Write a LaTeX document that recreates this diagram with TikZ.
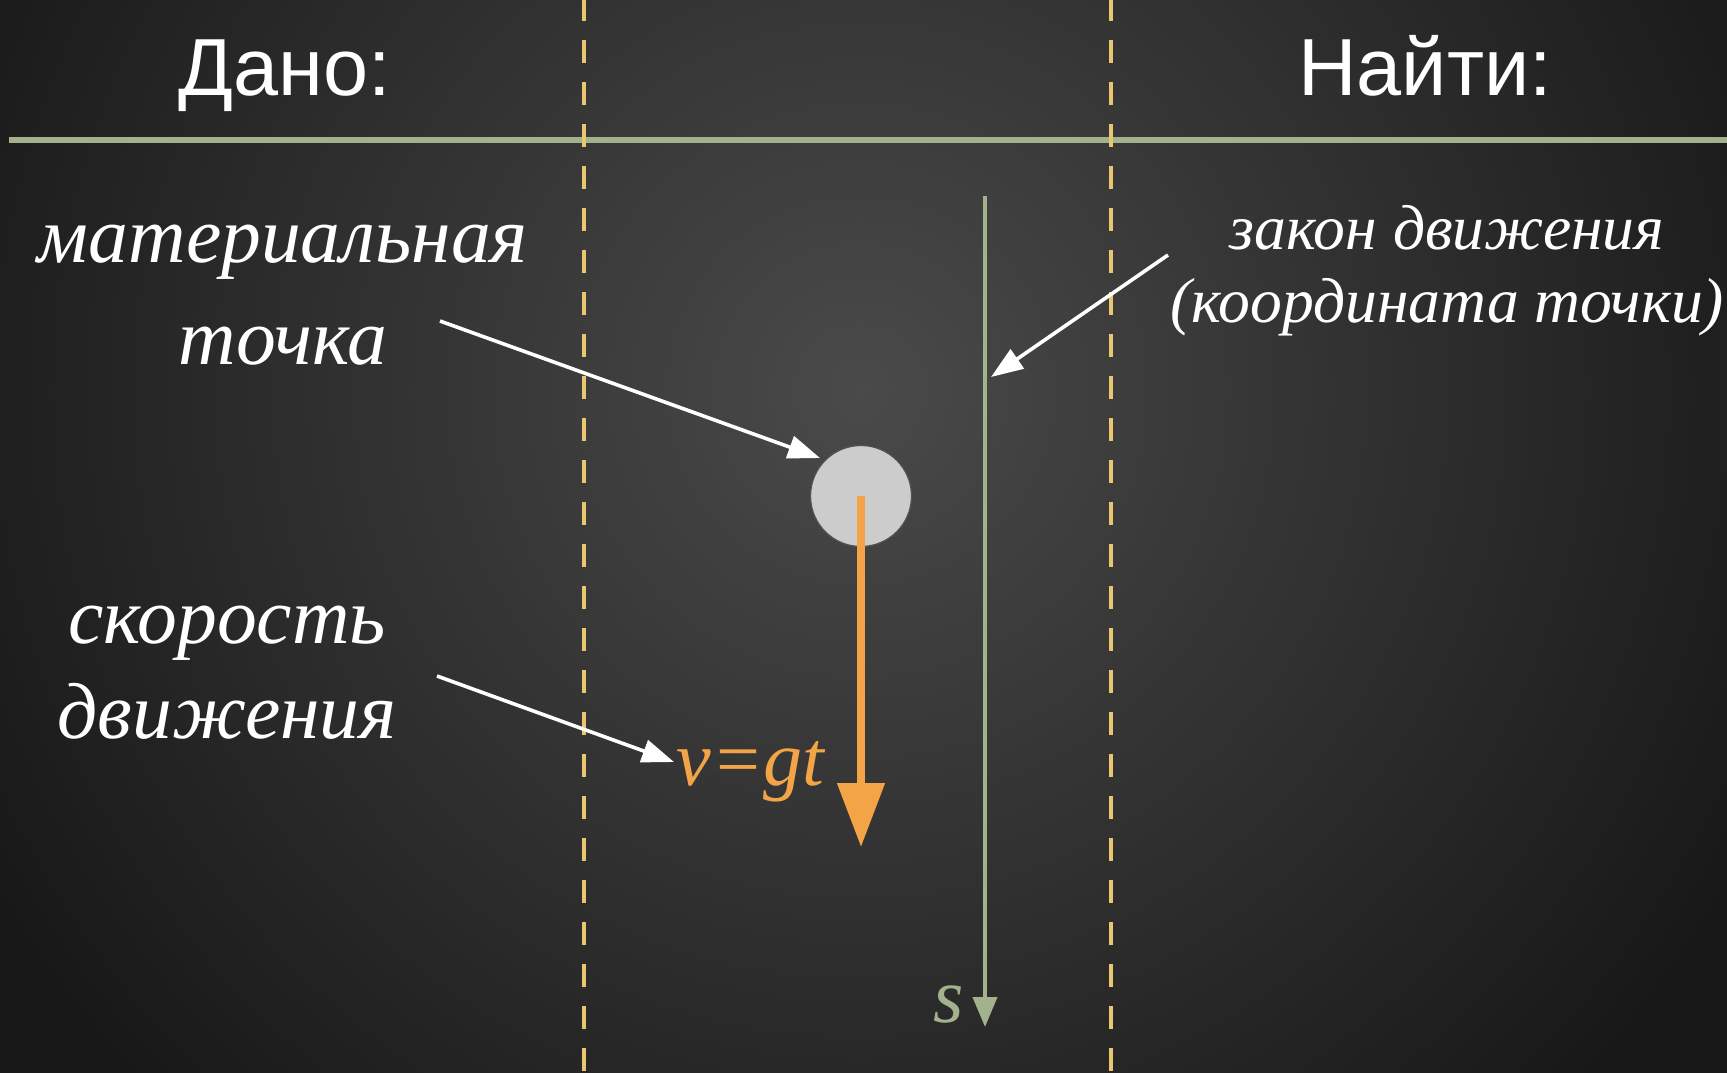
\documentclass[tikz,border=0pt]{standalone}
\usepackage{fontspec}
\setmainfont{Liberation Serif}
\newfontfamily\headfont{Liberation Sans}
\usepackage{tikz}
\usetikzlibrary{positioning}
\usetikzlibrary{arrows.meta}

\definecolor{axisgreen}{RGB}{163,177,141}
\definecolor{dashyellow}{RGB}{233,199,112}
\definecolor{vorange}{RGB}{243,164,70}
\definecolor{pointgray}{RGB}{204,204,204}
\definecolor{pointrim}{RGB}{82,82,82}
\definecolor{bginner}{RGB}{74,74,74}
\definecolor{bgouter}{RGB}{24,24,24}

\begin{document}
\begin{tikzpicture}[x=0.5pt, y=-0.5pt,
    head/.style={text=white, font=\headfont\fontsize{40.5}{48}\selectfont, anchor=base, inner sep=0pt},
    given/.style={text=white, font=\itshape\fontsize{39.8}{46}\selectfont, anchor=base, inner sep=0pt},
    wanted/.style={text=white, font=\itshape\fontsize{31.8}{38}\selectfont, anchor=base, inner sep=0pt},
    pointer/.style={draw=white, line width=1.8pt, -{Triangle[length=16pt, width=11.5pt]}},
    border/.style={draw=dashyellow, line width=2pt, dash pattern=on 11.5pt off 9.5pt},
    point/.style={circle, fill=pointgray, draw=pointrim, line width=0.6pt, minimum size=50.5pt, inner sep=0pt}]

    % background
    \useasboundingbox (0,0) rectangle (1727,1072);
    \fill[bgouter] (-10,-10) rectangle (1737,1082);
    \shade[inner color=bginner, outer color=bgouter] (860,390) circle (1000);

    % table lines
    \coordinate (rule l) at (9,140);
    \coordinate (rule r) at (1737,140);
    \coordinate (col1 t) at (584,-2);
    \coordinate (col1 b) at (584,1080);
    \coordinate (col2 t) at (1111,-2);
    \coordinate (col2 b) at (1111,1080);
    \draw[axisgreen, line width=3pt] (rule l) -- (rule r);
    \draw[border] (col1 t) -- (col1 b);
    \draw[border] (col2 t) -- (col2 b);

    \node[head] (dano) at (285,95) {Дано:};
    \node[head] (najti) at (1425,95) {Найти:};

    % given
    \node[given] (mat) at (283,262) {материальная};
    \node[given, below=51pt of mat.base, anchor=base] (tochka) {точка};
    \node[given] (skor) at (227,643) {скорость};
    \node[given, below=47.5pt of skor.base, anchor=base] (dvizh) {движения};

    % wanted
    \node[wanted] (zakon) at (1447,249) {закон движения};
    \node[wanted, below=36.5pt of zakon.base, anchor=base] (koord) {(координата точки)};

    % the point and its velocity
    \node[point] (pt) at (861,496) {};
    \coordinate (vend) at (861,847);
    \draw[vorange, line width=4pt, -{Triangle[length=32pt, width=23pt]}] (pt.center) -- (vend);
    \node[anchor=base west, inner sep=0pt, text=vorange, font=\itshape\fontsize{39}{46}\selectfont] (vgt) at (676,785) {v=gt};

    % axis s
    \coordinate (stop) at (985,196);
    \coordinate (sbot) at (985,1027);
    \draw[axisgreen, line width=2pt, -{Triangle[length=15pt, width=12pt]}] (stop) -- (sbot);
    \node[anchor=base, inner sep=0pt, text=axisgreen, font=\itshape\fontsize{39}{46}\selectfont] (s) at (949,1022) {s};

    % pointers
    \coordinate (tail1) at (440,321);
    \coordinate (tip1) at (820,458);
    \coordinate (tail2) at (437,676);
    \coordinate (tip2) at (674,762);
    \coordinate (tail3) at (1168,255);
    \coordinate (tip3) at (991,377);
    \draw[pointer] (tail1) -- (tip1);
    \draw[pointer] (tail2) -- (tip2);
    \draw[pointer] (tail3) -- (tip3);

\end{tikzpicture}
\end{document}
